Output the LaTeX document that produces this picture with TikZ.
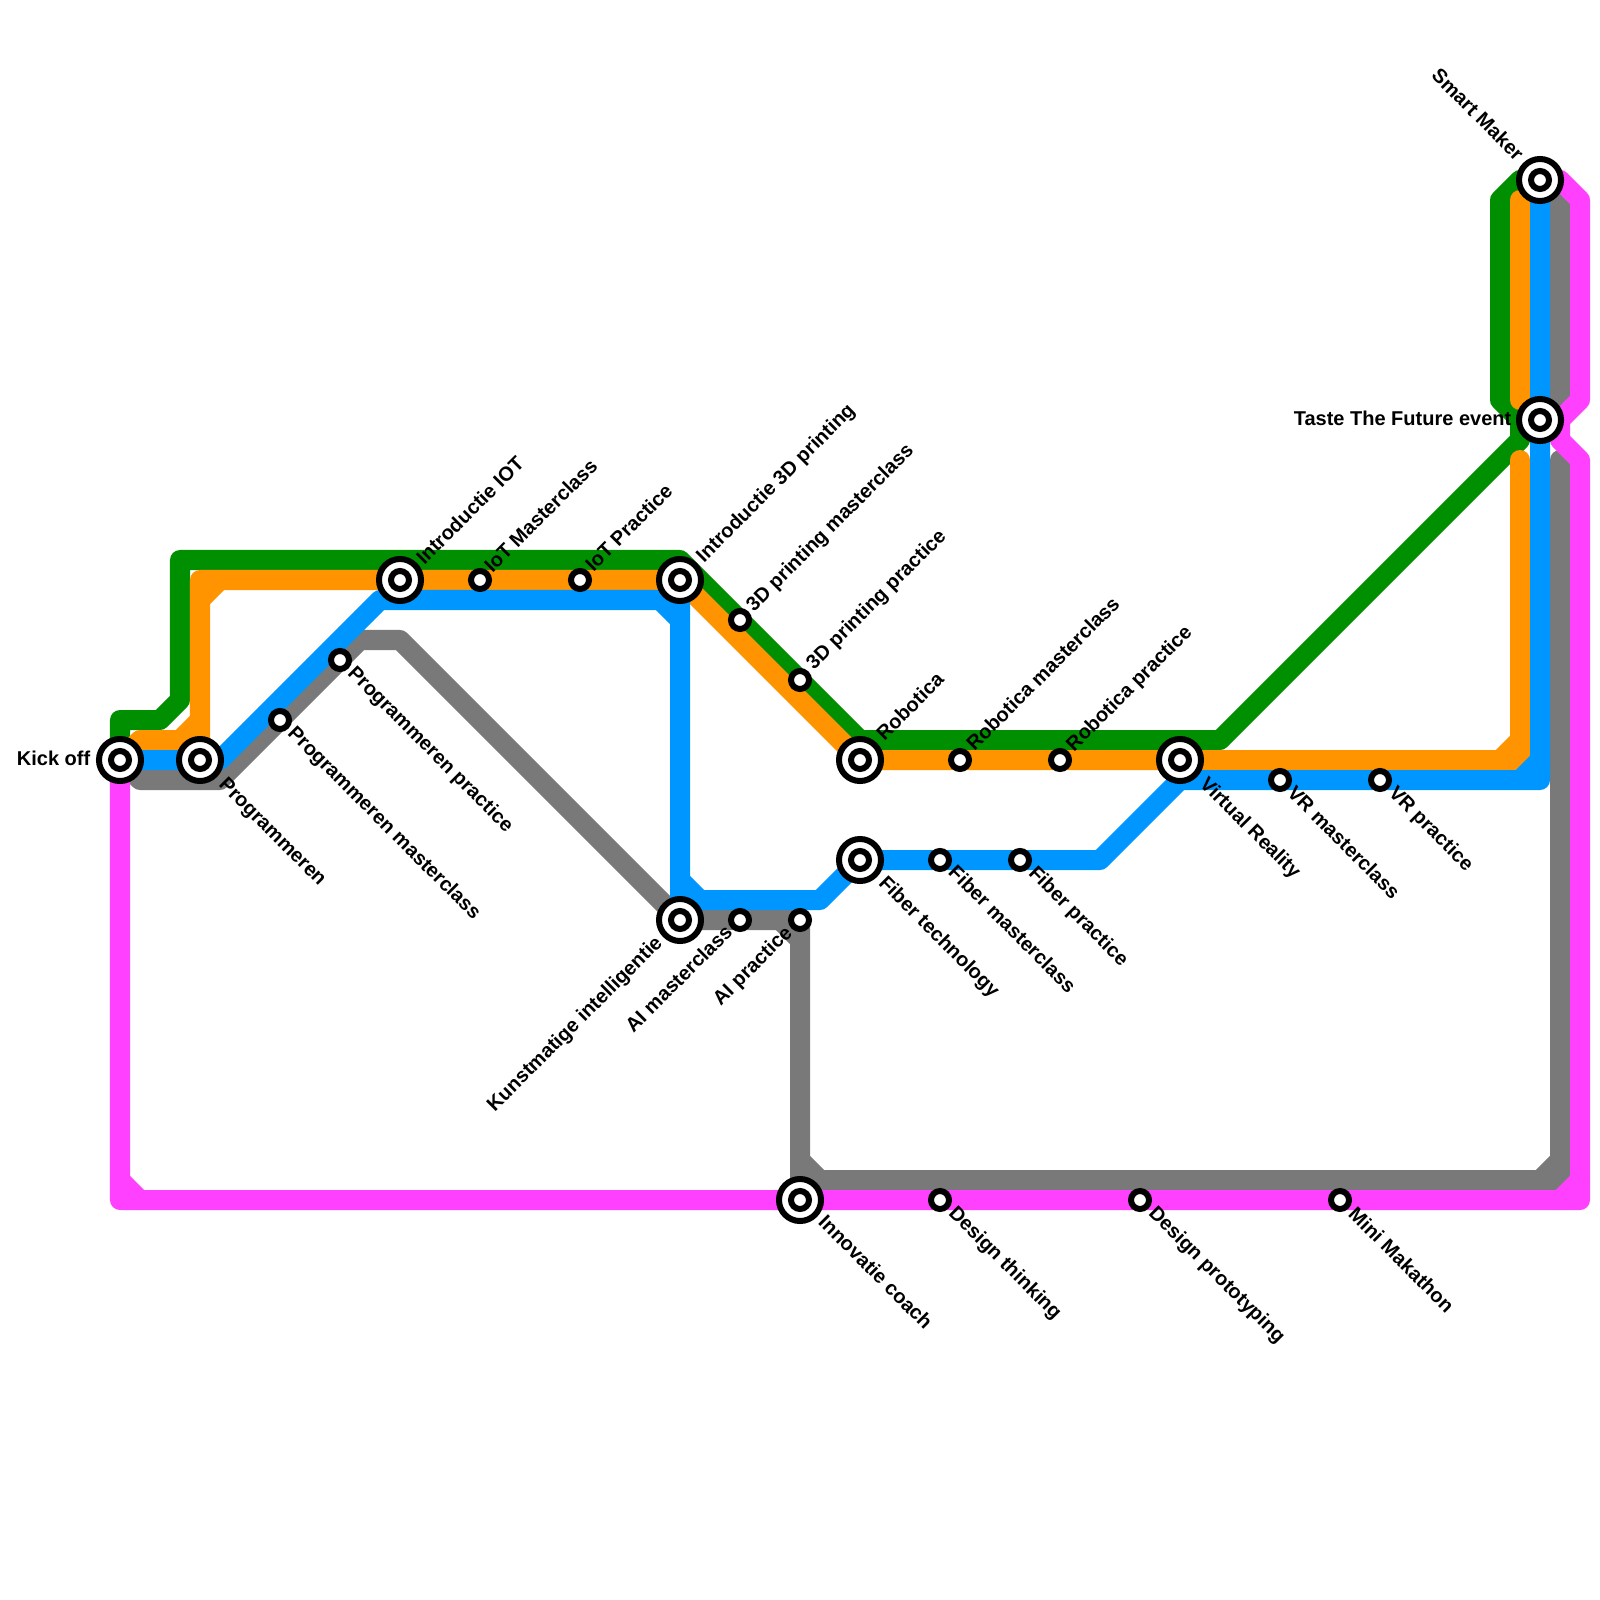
\documentclass[tikz,border=0pt]{standalone}
\usepackage{fontspec}
\usepackage{xcolor}
\usetikzlibrary{backgrounds}
\setmainfont{Liberation Sans}
\definecolor{linegreen}{HTML}{008F00}
\definecolor{lineorange}{HTML}{FF9300}
\definecolor{lineblue}{HTML}{0096FF}
\definecolor{linegray}{HTML}{797979}
\definecolor{linepink}{HTML}{FF40FF}
\tikzset{
  metro/.style={line width=0.2cm,line cap=round,line join=round},
  smallstop/.style={circle,draw=black,fill=white,line width=0.06cm,minimum size=0.18cm,inner sep=0pt,outer sep=0pt},
  bigstop/.style={circle,draw=black,fill=white,line width=0.06cm,minimum size=0.42cm,inner sep=0pt,outer sep=0pt},
  stopname/.style={inner sep=0pt,font=\fontsize{5.69}{6.8}\selectfont\bfseries},
  upname/.style={stopname,rotate=45,anchor=west},
  downname/.style={stopname,rotate=-45,anchor=west},
  lowname/.style={stopname,rotate=45,anchor=east},
  highname/.style={stopname,rotate=-45,anchor=east},
  sidename/.style={stopname,anchor=east}
}
\begin{document}
\begin{tikzpicture}[x=0.01cm,y=-0.01cm]
\useasboundingbox (0,0) rectangle (1600,1600);
% stations
\foreach \n/\x/\y in {kickoff/120/760,programmeren/200/760,introiot/400/580,intro3d/680/580,robotica/860/760,
  virtualreality/1180/760,smartmaker/1540/180,tastefuture/1540/420,fiber/860/860,kunstmatig/680/920,innovatie/800/1200}{
  \node[bigstop] (\n) at (\x,\y) {};
  \node[smallstop] (\n dot) at (\x,\y) {};
}
\foreach \n/\x/\y in {progmaster/280/720,progpractice/340/660,iotmaster/480/580,iotpractice/580/580,
  printmaster/740/620,printpractice/800/680,robomaster/960/760,robopractice/1060/760,vrmaster/1280/780,
  vrpractice/1380/780,fibermaster/940/860,fiberpractice/1020/860,aimaster/740/920,aipractice/800/920,
  designthinking/940/1200,designproto/1140/1200,minimakathon/1340/1200}{
  \node[smallstop] (\n) at (\x,\y) {};
}
\begin{pgfonlayer}{background}
% green
\draw[metro,linegreen] (kickoff.center)--(120,720)--(160,720)--(180,700)--(180,560)--(680,560)--(860,740)--(1220,740)
  --(1520,440)--(1520,420)--(1500,400)--(1500,200)--(1520,180)--(smartmaker.center);
% orange
\draw[metro,lineorange] (kickoff.center)--(140,740)--(180,740)--(200,720);
\draw[metro,lineorange] (programmeren.center)--(200,580)--(introiot.center)--(intro3d.center)--(robotica.center)
  --(virtualreality.center)--(1520,760)--(1520,460);
\draw[metro,lineorange] (200,600)--(220,580) (1500,760)--(1520,740) (1520,200)--(1520,400);
% gray
\draw[metro,linegray] (kickoff.center)--(140,780)--(220,780)--(360,640)--(400,640)--(kunstmatig.center)
  --(aipractice.center)--(800,1180)--(1560,1180)--(1560,460);
\draw[metro,linegray] (780,920)--(800,940) (800,1160)--(820,1180) (1540,1180)--(1560,1160) (1560,200)--(1560,400);
% pink
\draw[metro,linepink] (kickoff.center)--(120,1200)--(1580,1200)--(1580,460)--(1560,440)--(1560,420)--(1580,400)
  --(1580,200)--(1560,180)--(smartmaker.center);
\draw[metro,linepink] (120,1180)--(140,1200) (1560,1200)--(1580,1180) (1560,420)--(tastefuture.center);
% blue
\draw[metro,lineblue] (kickoff.center)--(220,760)--(380,600)--(680,600)--(680,900)--(820,900)--(fiber.center)
  --(1100,860)--(1180,780)--(1540,780)--(smartmaker.center);
\draw[metro,lineblue] (660,600)--(680,620) (680,880)--(700,900) (1520,780)--(1540,760);
\end{pgfonlayer}
% names
\node[sidename] (kickoffname) at (91,758) {Kick off};
\node[sidename] (tastefuturename) at (1512,418) {Taste The Future event};
\node[highname] (smartmakername) at (1521,157) {Smart Maker};
\node[downname] (programmerenname) at (221,782) {Programmeren};
\node[downname] (progmastername) at (290,730) {Programmeren masterclass};
\node[downname] (progpracticename) at (350,670) {Programmeren practice};
\node[upname] (introiotname) at (419,561) {Introductie IOT};
\node[upname] (iotmastername) at (487,569) {IoT Masterclass};
\node[upname] (iotpracticename) at (588,568) {IoT Practice};
\node[upname] (intro3dname) at (700,560) {Introductie 3D printing};
\node[upname] (printmastername) at (750,609) {3D printing masterclass};
\node[upname] (printpracticename) at (810,667) {3D printing practice};
\node[upname] (roboticaname) at (879,737) {Robotica};
\node[upname] (robomastername) at (969,747) {Robotica masterclass};
\node[upname] (robopracticename) at (1070,749) {Robotica practice};
\node[downname] (virtualrealityname) at (1202,781) {Virtual Reality};
\node[downname] (vrmastername) at (1291,789) {VR masterclass};
\node[downname] (vrpracticename) at (1391,790) {VR practice};
\node[downname] (fibername) at (881,880) {Fiber technology};
\node[downname] (fibermastername) at (952,868) {Fiber masterclass};
\node[downname] (fiberpracticename) at (1031,870) {Fiber practice};
\node[lowname] (kunstmatigname) at (660,940) {Kunstmatige intelligentie};
\node[lowname] (aimastername) at (729,928) {AI masterclass};
\node[lowname] (aipracticename) at (790,930) {AI practice};
\node[downname] (innovatiename) at (822,1218) {Innovatie coach};
\node[downname] (designthinkingname) at (951,1210) {Design thinking};
\node[downname] (designprotoname) at (1151,1210) {Design prototyping};
\node[downname] (minimakathonname) at (1352,1210) {Mini Makathon};
\end{tikzpicture}
\end{document}
